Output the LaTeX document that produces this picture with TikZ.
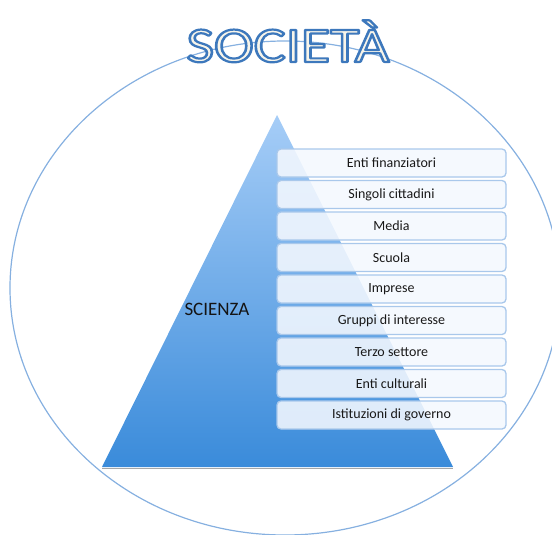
\documentclass[tikz,border=0pt]{standalone}
\usepackage{fontspec}
\setmainfont{Carlito}
\usetikzlibrary{positioning}

\definecolor{ringblue}{HTML}{86B0E0}
\definecolor{topblue}{HTML}{A6CDF7}
\definecolor{baseblue}{HTML}{3A8BDA}
\definecolor{boxline}{HTML}{A9C8EB}
\definecolor{boxfill}{HTML}{F4F8FE}
\definecolor{titlefill}{HTML}{F8F5EA}

% outlined letters: fill and stroke (text render mode 2)
\newcommand{\outlined}[1]{%
  \special{pdf:literal direct 2 Tr 2.2 w 1 j 0.239 0.471 0.737 RG}#1%
  \special{pdf:literal direct 0 Tr}}

\tikzset{
  actor/.style={draw=boxline, line width=1.3pt, fill=boxfill, fill opacity=0.88,
    text opacity=1, rounded corners=4pt, minimum width=229pt, minimum height=28pt,
    inner sep=0pt, text=black!90, font=\fontsize{14}{16}\selectfont},
  titletext/.style={anchor=base, inner sep=0pt, font=\fontsize{50}{60}\selectfont}
}

\begin{document}
\begin{tikzpicture}[x=1pt,y=-1pt]
  \useasboundingbox (0,0) rectangle (552,535);
  \clip (0,0) rectangle (552,535);

  % Outer ring
  \draw[ringblue, line width=1.2pt] (285,288) ellipse [x radius=275, y radius=247];

  % Pyramid with its base shadow
  \draw[black!35, line width=1pt] (102,468) -- (453,468);
  \shade[top color=topblue, bottom color=baseblue] (277,115) -- (102,467) -- (453,467) -- cycle;
  \node[font=\fontsize{19}{22}\selectfont, text=black!92] (scienza) at (217,309) {SCIENZA};

  % Actors, top to bottom
  \foreach \lab [count=\i from 0] in {Enti finanziatori, Singoli cittadini, Media, Scuola,
      Imprese, Gruppi di interesse, Terzo settore, Enti culturali, Istituzioni di governo}
    \node[actor] (actor\i) at (391.5, {163+31.5*\i}) {\lab};

  % Title
  \node[titletext, text=titlefill] (title) at (288,62) {\scalebox{1.2}[1]{\outlined{SOCIETÀ}}};
\end{tikzpicture}
\end{document}
